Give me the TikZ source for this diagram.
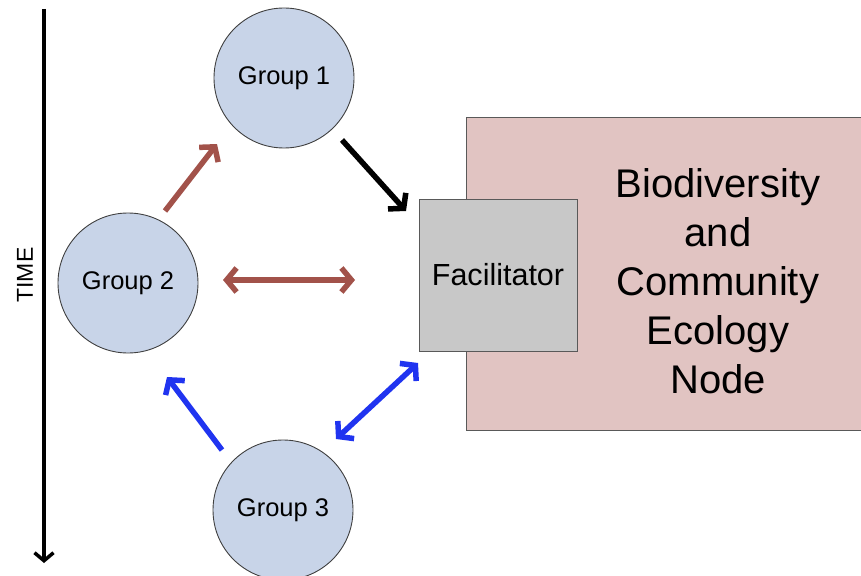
\documentclass[tikz,border=0pt]{standalone}
\usepackage{fontspec}
\setmainfont{Liberation Sans}
\usetikzlibrary{arrows.meta}

\definecolor{groupfill}{RGB}{200,212,232}
\definecolor{facfill}{RGB}{200,200,200}
\definecolor{nodefill}{RGB}{225,196,194}
\definecolor{brn}{RGB}{162,82,74}
\definecolor{blu}{RGB}{32,52,240}

\begin{document}
\begin{tikzpicture}[x=1pt,y=-1pt,>={Straight Barb[length=10pt,width=24pt]},
	group/.style={circle,draw=black!75,line width=0.9pt,fill=groupfill,minimum size=140pt,inner sep=0pt,font=\fontsize{25.5}{28}\selectfont},
	fac/.style={rectangle,draw=black!65,line width=0.9pt,fill=facfill,minimum width=158pt,minimum height=152pt,inner sep=0pt,font=\fontsize{30.5}{34}\selectfont},
	thick arrow/.style={line width=5.5pt}]

\useasboundingbox (0,0) rectangle (861,575);

% big box behind the facilitator
\node[rectangle,draw=black!65,line width=0.9pt,fill=nodefill,minimum width=398pt,minimum height=313pt,inner sep=0pt]	(bce)	at (665,273.5) {};
\node[align=center,font=\fontsize{40}{49}\selectfont]	(bcetext)	at (718,281)	{Biodiversity\\and\\Community\\Ecology\\Node};

	\node[group]	(g1)	at (284,78)	{Group 1};
\node[group]	(g2)	at (128,283)	{Group 2};
	\node[group]	(g3)	at (283,510)	{Group 3};
\node[fac]	(facil)	at (498,275)	{Facilitator};

% time axis
\coordinate (t0) at (44,9);
\coordinate (t1) at (44,563);
\draw[line width=3.5pt,-{Straight Barb[length=8pt,width=19pt]}] (t0) -- (t1);
\node[rotate=90,font=\fontsize{23}{26}\selectfont]	(time)	at (25,275)	{TIME};

\coordinate (a1) at (165,211);	\coordinate (b1) at (217,144);
\coordinate (a2) at (223,280);	\coordinate (b2) at (355,280);
\coordinate (a3) at (342,140);	\coordinate (b3) at (406,211);
\coordinate (a4) at (222,450);	\coordinate (b4) at (167,377);
\coordinate (a5) at (336,439);	\coordinate (b5) at (418,363);

\path	(a1)	edge[thick arrow,->,brn]	(b1)
				(a2)	edge[thick arrow,<->,brn]	(b2)
		(a3)	edge[thick arrow,->,black]	(b3)
				(a4)	edge[thick arrow,->,blu]	(b4)
		(a5)	edge[thick arrow,<->,blu]	(b5);

\end{tikzpicture}
\end{document}
